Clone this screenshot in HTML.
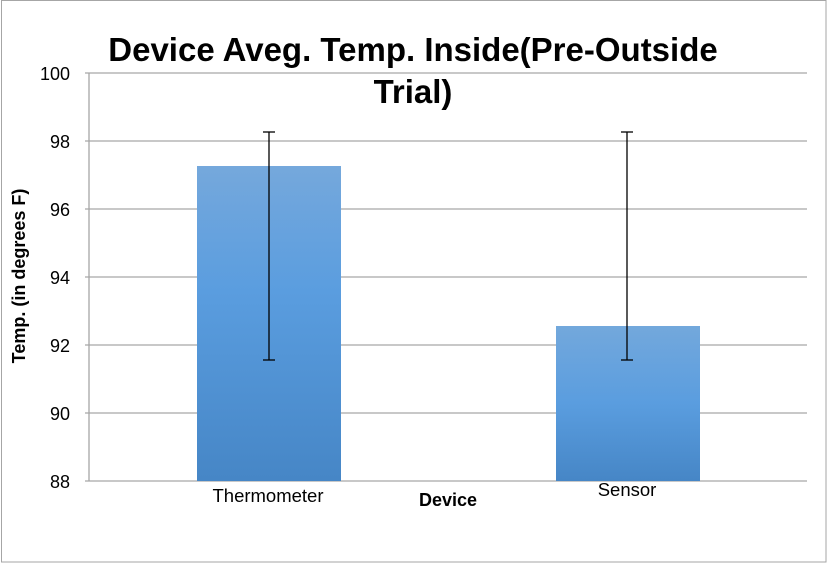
<!DOCTYPE html>
<html><head><meta charset="utf-8"><style>
html,body{margin:0;padding:0;background:#fff}
svg{display:block}
text{font-family:"Liberation Sans","DejaVu Sans",sans-serif}
</style></head><body>
<svg width="827" height="563" viewBox="0 0 827 563" xmlns="http://www.w3.org/2000/svg">
<defs>
<linearGradient id="g" x1="0" y1="0" x2="0" y2="1">
<stop offset="0" stop-color="#75a8dc"/><stop offset="0.4" stop-color="#5a9ddf"/><stop offset="1" stop-color="#4686c6"/>
</linearGradient>
<linearGradient id="g2" x1="0" y1="0" x2="0" y2="1">
<stop offset="0" stop-color="#73a8dc"/><stop offset="0.5" stop-color="#5a9ddf"/><stop offset="1" stop-color="#4686c6"/>
</linearGradient>
</defs>
<rect x="1.5" y="0.5" width="824.5" height="561.5" fill="#fff" stroke="#a6a6a6"/>
<g stroke="#a6a6a6" stroke-width="1.3">
<line x1="85" y1="73" x2="807" y2="73"/>
<line x1="85" y1="141" x2="807" y2="141"/>
<line x1="85" y1="209" x2="807" y2="209"/>
<line x1="85" y1="277" x2="807" y2="277"/>
<line x1="85" y1="345" x2="807" y2="345"/>
<line x1="85" y1="413" x2="807" y2="413"/>
<line x1="85" y1="481" x2="807" y2="481"/>
<line x1="89" y1="73" x2="89" y2="481"/>
</g>
<rect x="197" y="166" width="144" height="315" fill="url(#g)"/>
<rect x="556" y="326" width="144" height="155" fill="url(#g2)"/>
<g stroke="#000" stroke-width="1.3">
<line x1="269" y1="132" x2="269" y2="360"/><line x1="263" y1="132" x2="275" y2="132"/><line x1="263" y1="360" x2="275" y2="360"/>
<line x1="627" y1="132" x2="627" y2="360"/><line x1="621" y1="132" x2="633" y2="132"/><line x1="621" y1="360" x2="633" y2="360"/>
</g>
<g font-size="18" text-anchor="end" fill="#000">
<text x="70" y="80">100</text><text x="70" y="148">98</text><text x="70" y="216">96</text>
<text x="70" y="284">94</text><text x="70" y="352">92</text><text x="70" y="420">90</text><text x="70" y="488">88</text>
</g>
<text x="268" y="502" font-size="18.5" text-anchor="middle">Thermometer</text>
<text x="627" y="496" font-size="18.5" text-anchor="middle">Sensor</text>
<text x="448" y="506" font-size="18" font-weight="bold" text-anchor="middle">Device</text>
<text transform="translate(25,276) rotate(-90)" font-size="18" font-weight="bold" text-anchor="middle">Temp. (in degrees F)</text>
<text x="413" y="61" font-size="33" font-weight="bold" text-anchor="middle">Device Aveg. Temp. Inside(Pre-Outside</text>
<text x="413" y="103" font-size="33" font-weight="bold" text-anchor="middle">Trial)</text>
</svg>
</body></html>
